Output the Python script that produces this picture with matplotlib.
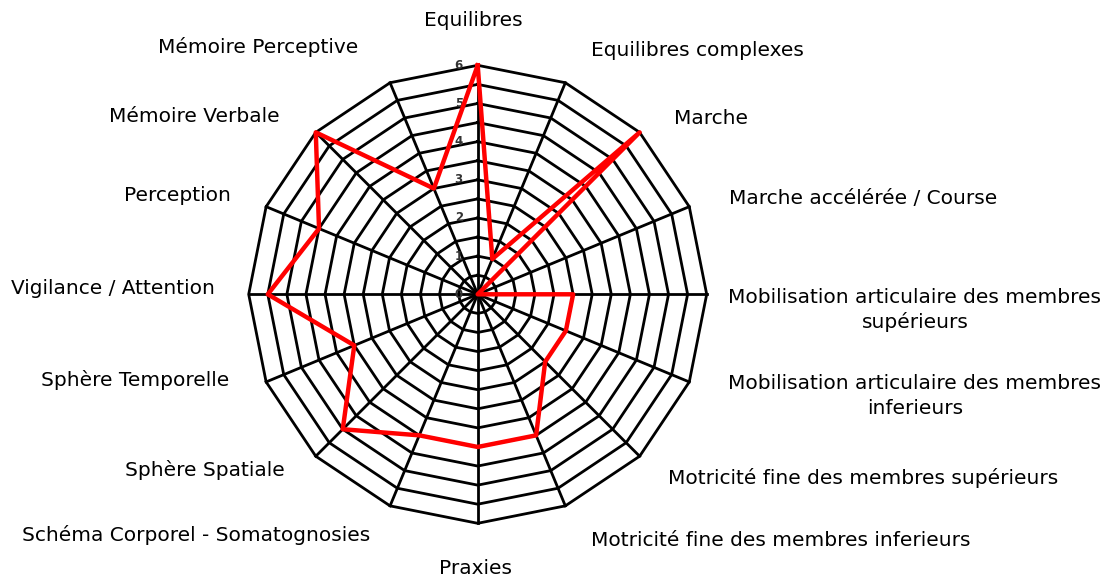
import numpy as np
import matplotlib.pyplot as plt
from matplotlib.transforms import offset_copy

# axes of the spider chart, clockwise from the top
categories = [
    "Equilibres",
    "Equilibres complexes",
    "Marche",
    "Marche accélérée / Course",
    "Mobilisation articulaire des membres\nsupérieurs",
    "Mobilisation articulaire des membres\ninferieurs",
    "Motricité fine des membres supérieurs",
    "Motricité fine des membres inferieurs",
    "Praxies",
    "Schéma Corporel - Somatognosies",
    "Sphère Spatiale",
    "Sphère Temporelle",
    "Vigilance / Attention",
    "Perception",
    "Mémoire Verbale",
    "Mémoire Perceptive",
]
scores = [6, 1, 6, 0, 2.5, 2.5, 2.5, 4, 4, 4, 5, 3.5, 5.5, 4.5, 6, 3]
tick_values = [0, 1, 2, 3, 4, 5, 6]
ring_values = np.arange(0.5, 6.01, 0.5)

# where the category names sit (pixels from the top-left corner)
label_pos = [
    (473, 20), (697, 50), (711, 118), (863, 198),
    (915, 310), (915, 396), (863, 478), (781, 540),
    (475, 568), (196, 535), (205, 470), (135, 380),
    (113, 288), (177, 195), (194, 116), (258, 47),
]

W, H = 1109, 576
fig = plt.figure(figsize=(W / 100, H / 100), dpi=100)
fig.patch.set_facecolor("white")

# centre (477.7, 294.3) px, radius 229 px
cx, cy, rad = 477.7, 294.3, 229
ax = fig.add_axes([(cx - rad) / W, (H - cy - rad) / H, 2 * rad / W, 2 * rad / H],
                  projection="polar")
ax.set_theta_zero_location("N")
ax.set_theta_direction(-1)
ax.set_ylim(0, 6)
ax.set_axis_off()

n = len(categories)
angles = np.arange(n) * 2 * np.pi / n
closed = np.append(angles, angles[0])

# polygon rings every half point
for r in ring_values:
    ax.plot(closed, [r] * (n + 1), color="black", lw=2, clip_on=False, zorder=1)

# spokes
for a in angles:
    ax.plot([a, a], [0, 6], color="black", lw=2, clip_on=False, zorder=1)

# scale numbers on the top spoke
tick_tr = offset_copy(ax.transData, fig=fig, x=-19, y=0, units="dots")
for v in tick_values:
    ax.text(0, v, str(v), transform=tick_tr, ha="center", va="center",
            fontsize=8.5, color="#333333", fontweight="bold", zorder=2)

# the score profile
ax.plot(closed, scores + scores[:1], color="red", lw=3.2, clip_on=False, zorder=3)

for name, (x, y) in zip(categories, label_pos):
    fig.text(x / W, 1 - y / H, name, ha="center", va="center",
             fontsize=14.5, color="black", multialignment="center", linespacing=1.35)

fig.savefig("out.png", dpi=100, facecolor="white")
